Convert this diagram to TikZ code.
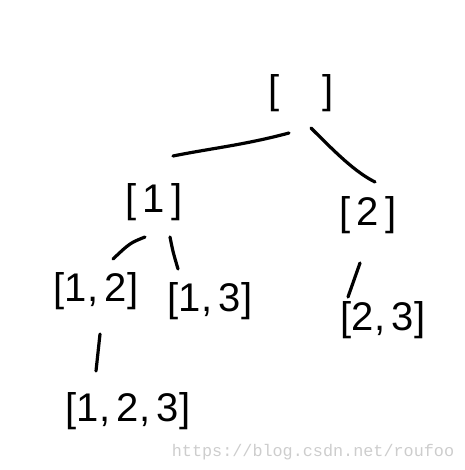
\documentclass[tikz,border=0pt]{standalone}
\usepackage{fontspec}
\setmainfont{Liberation Sans}
\newfontfamily\markfont{Liberation Mono}
\usepackage{xcolor}
\usetikzlibrary{positioning, calc}

\definecolor{markgray}{RGB}{205,205,205}

\tikzset{
    subset/.style={inner sep=0pt, font=\fontsize{40}{46}\selectfont},
    edge/.style={line width=3.2pt, line cap=round, line join=round},
}

\begin{document}
\begin{tikzpicture}[x=1pt, y=-1pt]
    \useasboundingbox (0,0) rectangle (464,470);

    % the subsets
    \node[subset] (root) at (301,93) {[\hspace{42pt}]};
    \node[subset] (n1) at (154,202) {[\,1\,]};
    \node[subset] (n2) at (368,215) {[\,2\,]};
    \node[subset] (n12) at (96,291) {[1,\,2]};
    \node[subset] (n13) at (210,301) {[1,\,3]};
    \node[subset] (n23) at (383,320) {[2,\,3]};
    \node[subset] (n123) at (128,411) {[1,\,2,\,3]};

    % strokes between them
    \draw[edge] ($(root)+(-12,40)$) .. controls +(-45,12) and +(40,-8) .. ($(n1)+(19,-46)$);
    \draw[edge] ($(root)+(10,35)$) .. controls +(25,25) and +(-20,-10) .. ($(n2)+(7,-33)$);
    \draw[edge] ($(n1)+(-9,35)$) .. controls +(-15,6) .. ($(n12)+(17,-32)$);
    \draw[edge] ($(n1)+(16,35)$) .. controls +(3,15) .. ($(n13)+(-32,-32)$);
    \draw[edge] ($(n2)+(-8,48)$) -- ($(n23)+(-35,-23)$);
    \draw[edge] ($(n12)+(4,43)$) -- ($(n123)+(-32,-40)$);

    \node[text=markgray, font=\markfont\fontsize{16.8}{18}\selectfont] (mark) at (313,452) {https://blog.csdn.net/roufoo};
\end{tikzpicture}
\end{document}
